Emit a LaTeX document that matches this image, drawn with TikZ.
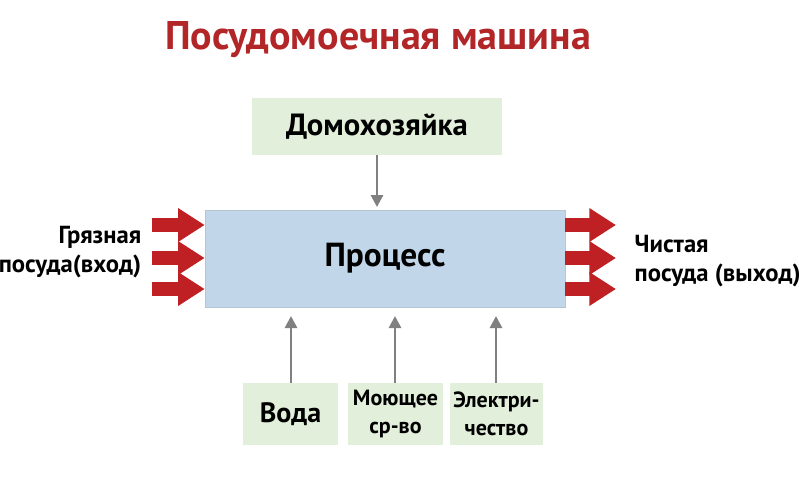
\documentclass[tikz,border=0pt]{standalone}
\usepackage{fontspec}
\setmainfont{PT Sans}
\usetikzlibrary{arrows.meta}
\definecolor{ttl}{RGB}{178,38,40}
\definecolor{grn}{RGB}{226,239,218}
\definecolor{blu}{RGB}{193,214,232}
\definecolor{rar}{RGB}{190,32,36}
\definecolor{gar}{RGB}{128,128,128}
\tikzset{
 gbox/.style={fill=grn,draw=none,align=center,inner sep=0pt},
 redarr/.style={draw=rar,line width=10pt,-{Triangle[width=24pt,length=20pt]}},
 grayarr/.style={draw=gar,line width=2pt,-{Triangle[width=9pt,length=9pt]}},
 lbl/.style={font=\fontsize{18.5}{22}\selectfont\bfseries}
}
\begin{document}
\begin{tikzpicture}[x=0.75pt,y=-0.75pt]
\useasboundingbox (0,0) rectangle (799,483);
\node[text=ttl,font=\fontsize{30}{34}\selectfont\bfseries] (t) at (378,40) {Посудомоечная машина};
\node[gbox,minimum width=187.5pt,minimum height=42.75pt,font=\fontsize{23}{26}\selectfont\bfseries] (dom) at (377,126.5) {Домохозяйка};
\node[fill=blu,draw=blu!80!gray,minimum width=270pt,minimum height=72.75pt,inner sep=0pt,font=\fontsize{25}{28}\selectfont\bfseries] (p) at (385,258.5) {Процесс};
\draw[grayarr] (dom.south) -- ([yshift=2pt]dom.south |- p.north);
\node[gbox,minimum width=71pt,minimum height=46.5pt,font=\fontsize{21}{24}\selectfont\bfseries] (v) at (290.5,414) {Вода};
\node[gbox,minimum width=71pt,minimum height=46.5pt,font=\fontsize{16.5}{21}\selectfont\bfseries] (m) at (395.5,414) {Моющее\\ср-во};
\node[gbox,minimum width=70pt,minimum height=46.5pt,font=\fontsize{16.5}{21}\selectfont\bfseries] (e) at (496.5,414) {Электри-\\чество};
\foreach \n/\x in {v/291,m/395,e/496}{
 \coordinate (top\n) at (\x,316);
 \draw[grayarr] (\n.north -| top\n) -- (top\n);
}
\foreach \i/\y in {1/225,2/258,3/289}{
 \coordinate (in\i) at (152,\y);
 \draw[redarr] (in\i) -- (in\i -| p.west);
 \coordinate (out\i) at (616,\y);
 \draw[redarr] (out\i -| p.east) -- (out\i);
}
\node[lbl,align=right,anchor=east] (gl) at (146,252) {Грязная\\посуда(вход)};
\node[lbl,align=left,anchor=west] (cl) at (630,261) {Чистая\\посуда (выход)};
\end{tikzpicture}
\end{document}
